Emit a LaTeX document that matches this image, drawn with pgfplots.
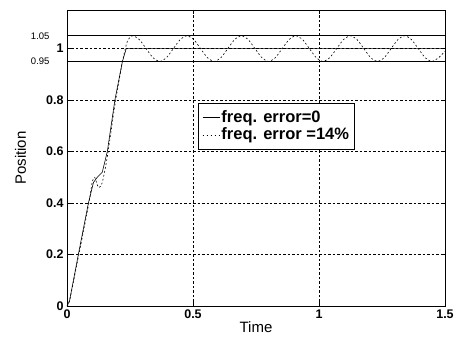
\documentclass[border=0pt]{standalone}
\usepackage{fontspec}
\setmainfont{Liberation Sans}
\usepackage{pgfplots}
\pgfplotsset{compat=1.18}
\begin{document}
\begin{tikzpicture}
\begin{axis}[
  scale only axis, width=378pt, height=296pt,
  xmin=0, xmax=1.5, ymin=0, ymax=1.15,
  xtick={0,0.5,1,1.5}, xticklabels={0,0.5,1,1.5},
  ytick={0,0.2,0.4,0.6,0.8,1}, yticklabels={0,0.2,0.4,0.6,0.8,1},
  extra y ticks={0.95,1.05}, extra y tick labels={0.95,1.05},
  extra y tick style={grid=none, tick style={draw=none}, ticklabel style={font=\fontsize{9.5}{10}\selectfont\rmfamily, xshift=-14pt}},
  tick align=inside, tick style={black, thin},
  grid=major, major grid style={black, dash pattern=on 2.5pt off 2pt, thin},
  axis line style={black, thick},
  tick label style={font=\fontsize{12.5}{13}\selectfont\bfseries},
  /pgf/number format/assume math mode=true,
  xlabel={Time}, ylabel={Position},
  label style={font=\fontsize{15}{16}\selectfont},
  xlabel style={yshift=4pt}, ylabel style={yshift=-2pt},
  legend style={at={(axis cs:0.52,0.79)}, anchor=north west, draw=black, thick,
    font=\fontsize{16.5}{18}\selectfont\bfseries, inner xsep=4pt, inner ysep=6pt, row sep=1pt,
    legend cell align=left, nodes={inner sep=1.5pt}},
  legend image code/.code={\draw[#1, thin] (0cm,0cm) -- (0.6cm,0cm);},
]
\addplot[black, semithick] coordinates {
(0,0) (0.01,0.02) (0.045,0.2) (0.085,0.4) (0.105,0.48) (0.12,0.5) (0.14,0.52)
(0.16,0.6) (0.19,0.8) (0.22,0.95) (0.235,1.0) (1.5,1.0)};
\addlegendentry{freq. error=0}
\addplot[black, semithick, dash pattern=on 1.8pt off 2.2pt, smooth, tension=0.4] coordinates {
(0,0) (0.01,0.02) (0.045,0.19) (0.085,0.39) (0.10,0.48) (0.11,0.5) (0.125,0.46)
(0.14,0.48) (0.16,0.58) (0.19,0.78) (0.22,0.95) (0.24,1.03) (0.26,1.05)
(0.287,1.035) (0.314,1.0) (0.341,0.965) (0.368,0.95) (0.395,0.965) (0.422,1.0)
(0.449,1.035) (0.476,1.05) (0.503,1.035) (0.530,1.0) (0.557,0.965) (0.584,0.95)
(0.611,0.965) (0.638,1.0) (0.665,1.035) (0.692,1.05) (0.719,1.035) (0.746,1.0)
(0.773,0.965) (0.800,0.95) (0.827,0.965) (0.854,1.0) (0.881,1.035) (0.908,1.05)
(0.935,1.035) (0.962,1.0) (0.989,0.965) (1.016,0.95) (1.043,0.965) (1.070,1.0)
(1.097,1.035) (1.124,1.05) (1.151,1.035) (1.178,1.0) (1.205,0.965) (1.232,0.95)
(1.259,0.965) (1.286,1.0) (1.313,1.035) (1.340,1.05) (1.367,1.035) (1.394,1.0)
(1.421,0.965) (1.448,0.95) (1.475,0.965) (1.5,0.99)};
\addlegendentry{freq. error =14\%}
\addplot[black, semithick, forget plot] coordinates {(0,1.05) (1.5,1.05)};
\addplot[black, semithick, forget plot] coordinates {(0,0.95) (1.5,0.95)};
\end{axis}
\pgfresetboundingbox
\path (current axis.south west) ++(-67pt,-42pt) coordinate (bl);
\path (current axis.north east) ++(12pt,10pt) coordinate (tr);
\path[use as bounding box] (bl) rectangle (tr);
\end{tikzpicture}
\end{document}
